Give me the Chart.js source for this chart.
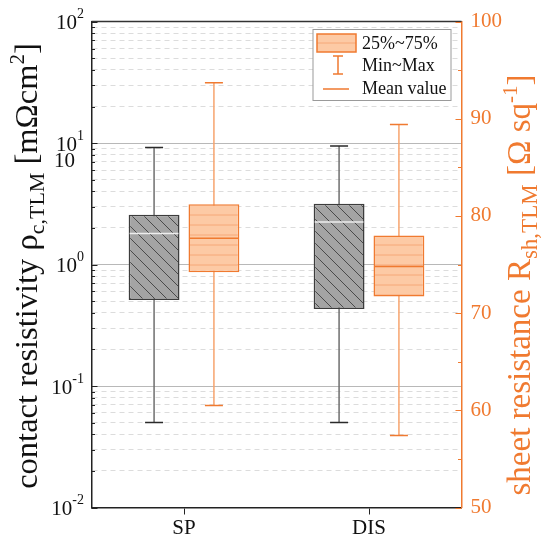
<!DOCTYPE html>
<html>
<head>
<meta charset="utf-8">
<script src="https://cdn.jsdelivr.net/npm/chart.js@4.4.1/dist/chart.umd.min.js"></script>
<style>
  html, body { margin: 0; padding: 0; background: #fff; }
  #wrap { width: 542px; height: 539px; }
</style>
</head>
<body>
<div id="wrap"><canvas id="chart" width="542" height="539"></canvas></div>
<script>
// categories
const categories = ["SP", "DIS"];

// contact resistivity rho_c,TLM [mOhm cm2] (left, log axis)
const rhoMin = [0.05, 0.05];
const rhoQ1 = [0.51, 0.43];
const rhoQ3 = [2.57, 3.17];
const rhoMax = [9.2, 9.45];
const rhoMean = [1.80, 2.24];

// sheet resistance R_sh,TLM [Ohm/sq] (right axis)
const rshMin = [60.5, 57.4];
const rshQ1 = [74.2, 71.7];
const rshQ3 = [81.2, 78.0];
const rshMax = [93.7, 89.4];
const rshMean = [77.7, 74.8];

// axes
const leftDecades = [0.01, 0.1, 1, 10, 100];
const leftExp = ["-2", "-1", "0", "1", "2"];
const rightMin = 50, rightMax = 100, rightStep = 5;

const legendLabels = ["25%~75%", "Min~Max", "Mean value"];

const ORANGE = "#f07a30";
const ORANGE_LIGHT = "#f7a46e";
const ORANGE_FILL = "#fdcaa5";
const SERIF = '"Liberation Serif", "Times New Roman", serif';
const font = (s) => s + "px " + SERIF;

const canvas = document.getElementById("chart");
const ctx0 = canvas.getContext("2d");

function makePattern(bg, line, size, draw) {
    const c = document.createElement("canvas");
    c.width = c.height = size;
    const g = c.getContext("2d");
    g.fillStyle = bg;
    g.fillRect(0, 0, size, size);
    g.strokeStyle = line;
    g.lineWidth = 1;
    draw(g, size);
    return ctx0.createPattern(c, "repeat");
}

const grayHatch = makePattern("#a4a4a4", "#4a4a4a", 12, function (g, s) {
    g.beginPath();
    [-s, 0, s].forEach(function (k) { g.moveTo(k, 0); g.lineTo(k + s, s); });
    g.stroke();
});
const orangeHatch = makePattern(ORANGE_FILL, "#f6a878", 10, function (g, s) {
    g.beginPath();
    g.moveTo(0, s / 2); g.lineTo(s, s / 2);
    g.stroke();
});

// log ticks 1..9 x each decade
const logTicks = [];
for (let i = 0; i < leftDecades.length - 1; i++) {
    for (let m = 1; m <= 9; m++) logTicks.push(+(m * leftDecades[i]).toPrecision(3));
}
logTicks.push(leftDecades[leftDecades.length - 1]);
const isMajor = (v) => leftDecades.some((d) => Math.abs(v / d - 1) < 1e-6);

function richText(ctx, parts, x, y, rot, color) {
    ctx.save();
    ctx.translate(x, y);
    ctx.rotate(rot);
    ctx.fillStyle = color;
    ctx.textBaseline = "alphabetic";
    let total = 0;
    parts.forEach(function (p) {
        ctx.font = font(p.size);
        p.w = ctx.measureText(p.t).width;
        total += p.w;
    });
    let cx = -total / 2;
    parts.forEach(function (p) {
        ctx.font = font(p.size);
        ctx.fillText(p.t, cx, p.dy || 0);
        cx += p.w;
    });
    ctx.restore();
}

function whiskers(chart, dsIndex, scale, lo, hi, lineCol, capCol) {
    const ctx = chart.ctx;
    const meta = chart.getDatasetMeta(dsIndex);
    meta.data.forEach(function (bar, i) {
        const yLo = scale.getPixelForValue(lo[i]);
        const yHi = scale.getPixelForValue(hi[i]);
        ctx.strokeStyle = lineCol;
        ctx.lineWidth = 1.5;
        ctx.beginPath();
        ctx.moveTo(bar.x, yLo);
        ctx.lineTo(bar.x, yHi);
        ctx.stroke();
        ctx.strokeStyle = capCol;
        ctx.beginPath();
        ctx.moveTo(bar.x - 9, yLo); ctx.lineTo(bar.x + 9, yLo);
        ctx.moveTo(bar.x - 9, yHi); ctx.lineTo(bar.x + 9, yHi);
        ctx.stroke();
    });
}

function meanLines(chart, dsIndex, scale, vals, col) {
    const ctx = chart.ctx;
    const meta = chart.getDatasetMeta(dsIndex);
    meta.data.forEach(function (bar, i) {
        const y = scale.getPixelForValue(vals[i]);
        ctx.strokeStyle = col;
        ctx.lineWidth = 1.5;
        ctx.beginPath();
        ctx.moveTo(bar.x - bar.width / 2 + 1, y);
        ctx.lineTo(bar.x + bar.width / 2 - 1, y);
        ctx.stroke();
    });
}

const extras = {
    id: "extras",
    beforeDatasetsDraw(chart) {
        whiskers(chart, 0, chart.scales.y, rhoMin, rhoMax, "#6e6e6e", "#2a2a2a");
        whiskers(chart, 1, chart.scales.y2, rshMin, rshMax, ORANGE_LIGHT, ORANGE);
    },
    afterDatasetsDraw(chart) {
        const ctx = chart.ctx;
        const a = chart.chartArea;
        const y = chart.scales.y, y2 = chart.scales.y2;

        meanLines(chart, 0, y, rhoMean, "#eeeeee");
        meanLines(chart, 1, y2, rshMean, ORANGE);

        // top frame
        ctx.strokeStyle = "#333";
        ctx.lineWidth = 1.5;
        ctx.beginPath();
        ctx.moveTo(a.left, a.top);
        ctx.lineTo(a.right, a.top);
        ctx.stroke();

        // inward ticks, left axis
        ctx.strokeStyle = "#222";
        ctx.lineWidth = 1;
        ctx.beginPath();
        logTicks.forEach(function (v) {
            const py = Math.round(y.getPixelForValue(v)) + 0.5;
            ctx.moveTo(a.left, py);
            ctx.lineTo(a.left + (isMajor(v) ? 6 : 3.5), py);
        });
        ctx.stroke();

        // inward ticks, right axis
        ctx.strokeStyle = ORANGE;
        ctx.beginPath();
        for (let v = rightMin; v <= rightMax; v += rightStep) {
            const py = Math.round(y2.getPixelForValue(v)) + 0.5;
            ctx.moveTo(a.right, py);
            ctx.lineTo(a.right - (v % 10 === 0 ? 6 : 3.5), py);
        }
        ctx.stroke();

        // left tick labels with exponents
        ctx.fillStyle = "#111";
        ctx.textBaseline = "middle";
        leftDecades.forEach(function (v, i) {
            const py = y.getPixelForValue(v);
            ctx.font = font(14);
            ctx.textAlign = "left";
            const ew = ctx.measureText(leftExp[i]).width;
            const ex = 84 - ew;
            ctx.fillText(leftExp[i], ex, py - 7);
            ctx.font = font(21);
            ctx.textAlign = "right";
            ctx.fillText("10", ex, py + 2);
        });
        ctx.font = font(21);
        ctx.textAlign = "right";
        ctx.fillText("10", 75, 161);

        // axis titles
        ctx.textAlign = "left";
        richText(ctx, [
            { t: "contact resistivity \u03c1", size: 32.5 },
            { t: "c,TLM", size: 22, dy: 7 },
            { t: " [m\u03a9cm", size: 32.5 },
            { t: "2", size: 21, dy: -13 },
            { t: "]", size: 32.5 }
        ], 37, 266, -Math.PI / 2, "#111");
        richText(ctx, [
            { t: "sheet resistance R", size: 33 },
            { t: "sh,TLM", size: 23, dy: 7 },
            { t: " [\u03a9 sq", size: 33 },
            { t: "-1", size: 21, dy: -13 },
            { t: "]", size: 33 }
        ], 530, 285, -Math.PI / 2, ORANGE);

        // legend
        ctx.fillStyle = "#fff";
        ctx.fillRect(313, 29.5, 138, 71);
        ctx.strokeStyle = "#9a9a9a";
        ctx.lineWidth = 1;
        ctx.strokeRect(313, 29.5, 138, 71);

        ctx.fillStyle = ORANGE_FILL;
        ctx.fillRect(317, 34, 39, 18);
        ctx.strokeStyle = "#f6a878";
        ctx.beginPath();
        ctx.moveTo(317, 43); ctx.lineTo(356, 43);
        ctx.stroke();
        ctx.strokeStyle = ORANGE;
        ctx.lineWidth = 1.5;
        ctx.strokeRect(317, 34, 39, 18);

        ctx.beginPath();
        ctx.moveTo(338, 56); ctx.lineTo(338, 74);
        ctx.moveTo(333, 56); ctx.lineTo(343, 56);
        ctx.moveTo(333, 74); ctx.lineTo(343, 74);
        ctx.moveTo(323, 89); ctx.lineTo(349, 89);
        ctx.stroke();

        ctx.fillStyle = "#111";
        ctx.font = font(18);
        ctx.textAlign = "left";
        ctx.textBaseline = "middle";
        [44, 66, 89].forEach(function (py, i) {
            ctx.fillText(legendLabels[i], 362, py);
        });
    }
};

new Chart(canvas.getContext("2d"), {
    type: "bar",
    data: {
        labels: categories,
        datasets: [{
            label: "contact resistivity",
            data: categories.map((c, i) => [rhoQ1[i], rhoQ3[i]]),
            yAxisID: "y",
            backgroundColor: grayHatch,
            borderColor: "#3c3c3c",
            borderWidth: 1.5,
            borderSkipped: false
        }, {
            label: "sheet resistance",
            data: categories.map((c, i) => [rshQ1[i], rshQ3[i]]),
            yAxisID: "y2",
            backgroundColor: orangeHatch,
            borderColor: ORANGE,
            borderWidth: 1.5,
            borderSkipped: false
        }]
    },
    options: {
        responsive: false,
        animation: false,
        events: [],
        categoryPercentage: 0.647,
        barPercentage: 0.85,
        layout: { padding: { top: 20.5, left: 0, right: 0, bottom: 0 } },
        plugins: { legend: { display: false }, tooltip: { enabled: false } },
        scales: {
            x: {
                offset: true,
                grid: { offset: false, drawOnChartArea: false, drawTicks: true, tickLength: 7, tickColor: "#222", tickWidth: 1 },
                border: { color: "#222", width: 1.5 },
                ticks: { color: "#111", font: { family: SERIF, size: 21 }, padding: 1 },
                afterFit: (s) => { s.height = 31.5; }
            },
            y: {
                type: "logarithmic",
                position: "left",
                min: 0.01,
                max: 100,
                stacked: false,
                afterBuildTicks: (s) => { s.ticks = logTicks.map((v) => ({ value: v })); },
                grid: {
                    drawTicks: false,
                    color: (c) => isMajor(c.tick.value) ? "#b8b8b8" : "#dcdcdc",
                    lineWidth: 1
                },
                border: {
                    color: "#222",
                    width: 1.5,
                    dash: (c) => (c.tick && !isMajor(c.tick.value)) ? [5, 4] : []
                },
                ticks: { display: false },
                afterFit: (s) => { s.width = 91.5; }
            },
            y2: {
                type: "linear",
                position: "right",
                min: rightMin,
                max: rightMax,
                stacked: false,
                grid: { drawOnChartArea: false, drawTicks: false },
                border: { color: ORANGE, width: 1.5 },
                ticks: {
                    stepSize: rightStep,
                    color: ORANGE,
                    font: { family: SERIF, size: 21 },
                    padding: 9,
                    callback: (v) => v % 10 === 0 ? v : ""
                },
                afterFit: (s) => { s.width = 80.5; }
            }
        }
    },
    plugins: [extras]
});
</script>
</body>
</html>
